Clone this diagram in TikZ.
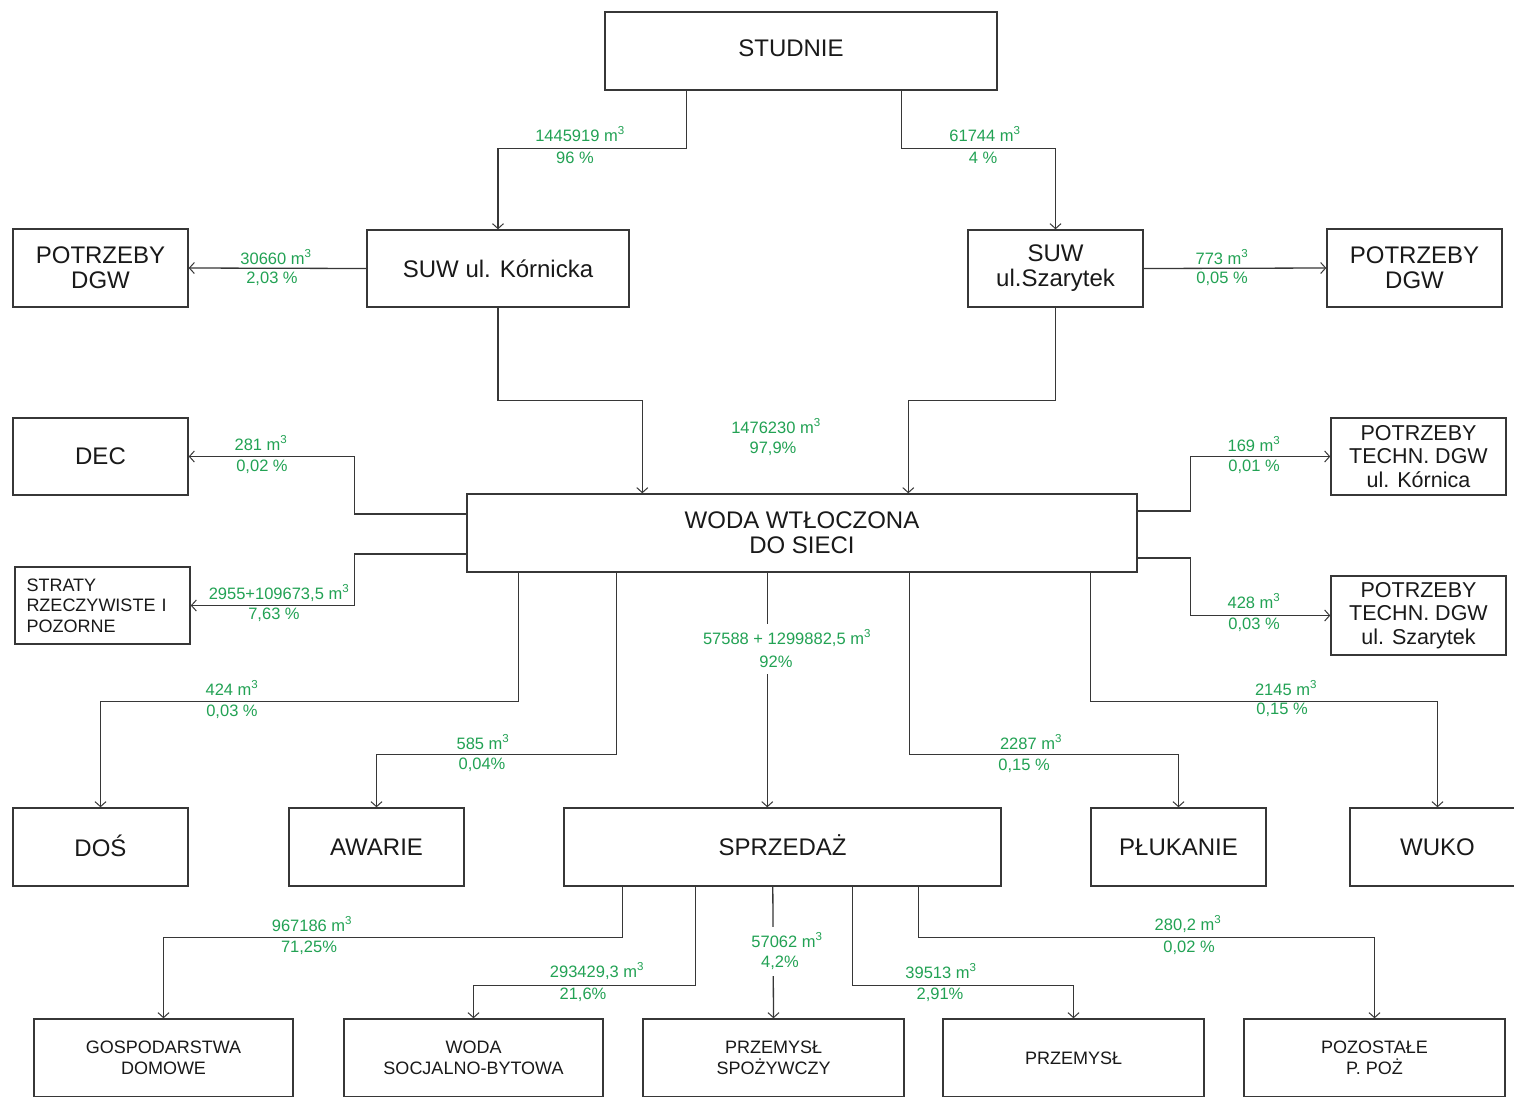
\documentclass[tikz,border=0pt]{standalone}
\usepackage{fontspec}
\setmainfont{Liberation Sans}
\usetikzlibrary{arrows.meta}
\definecolor{lbl}{RGB}{34,162,84}
\definecolor{ln}{RGB}{55,55,55}
\definecolor{tx}{RGB}{25,25,25}
\tikzset{
  box/.style={draw=ln, line width=1.4pt, inner sep=0pt, align=center, text=tx,
              font=\fontsize{24}{25}\selectfont},
  midbox/.style={box, font=\fontsize{21.5}{23.5}\selectfont},
  smallbox/.style={box, font=\fontsize{18}{20.5}\selectfont},
  conn/.style={draw=ln, line width=1.3pt},
  arr/.style={conn, -{Straight Barb[length=5pt,width=11pt,line width=1pt]}},
  lab/.style={text=lbl, font=\fontsize{16.5}{18}\selectfont, inner sep=1pt},
  labw/.style={lab, fill=white, inner ysep=6pt}
}
\begin{document}
\begin{tikzpicture}[x=1pt,y=-1pt]
\useasboundingbox[fill=white] (0,0) rectangle (1514,1096);

% boxes
\node[box, minimum width=392pt, minimum height=78pt] (studnie) at (801,51) {\hspace*{-20pt}\raisebox{5pt}{STUDNIE}};
\node[box, minimum width=175pt, minimum height=78pt] (potl) at (100.5,268) {POTRZEBY\\DGW};
\node[box, minimum width=262pt, minimum height=77pt] (suwk) at (498,268.5) {SUW ul. Kórnicka};
\node[box, minimum width=175pt, minimum height=77pt] (suws) at (1055.5,268.5) {SUW\\ul.Szarytek};
\node[box, minimum width=175pt, minimum height=78pt] (potr) at (1414.5,268) {POTRZEBY\\DGW};
\node[box, minimum width=175pt, minimum height=77pt] (dec) at (100.5,456.5) {DEC};
\node[box, minimum width=670pt, minimum height=78pt] (woda) at (802,533) {WODA WTŁOCZONA\\DO SIECI};
\node[smallbox, minimum width=175pt, minimum height=77pt, text width=152pt, align=left] (straty) at (102.5,605.5) {STRATY\\RZECZYWISTE I\\POZORNE};
\node[midbox, minimum width=175pt, minimum height=77pt] (ptk) at (1418.5,456.5) {POTRZEBY\\TECHN. DGW\\ul. Kórnica};
\node[midbox, minimum width=175pt, minimum height=79pt] (pts) at (1418.5,615.5) {POTRZEBY\\TECHN. DGW\\ul. Szarytek};

\node[box, minimum width=175pt, minimum height=78pt] (dos) at (100.5,847) {\raisebox{3pt}{DOŚ}};
\node[box, minimum width=175pt, minimum height=78pt] (awarie) at (376.5,847) {AWARIE};
\node[box, minimum width=437pt, minimum height=78pt] (sprz) at (782.5,847) {\raisebox{3pt}{SPRZEDAŻ}};
\node[box, minimum width=175pt, minimum height=78pt] (pluk) at (1178.5,847) {PŁUKANIE};
\node[box, minimum width=175pt, minimum height=78pt] (wuko) at (1437.5,847) {WUKO};

\node[smallbox, minimum width=259pt, minimum height=78pt] (gosp) at (163.5,1058) {GOSPODARSTWA\\DOMOWE};
\node[smallbox, minimum width=259pt, minimum height=78pt] (socj) at (473.5,1058) {WODA\\SOCJALNO-BYTOWA};
\node[smallbox, minimum width=261pt, minimum height=78pt] (przs) at (773.5,1058) {PRZEMYSŁ\\SPOŻYWCZY};
\node[smallbox, minimum width=261pt, minimum height=78pt] (przem) at (1073.5,1058) {PRZEMYSŁ};
\node[smallbox, minimum width=261pt, minimum height=78pt] (pozos) at (1374.5,1058) {POZOSTAŁE\\P. POŻ};

% connectors
\draw[arr] ([xshift=82pt]studnie.south west) -- ++(0,58) -| (suwk.north);
\draw[arr] ([xshift=297pt]studnie.south west) -- ++(0,58) -| (suws.north);
\draw[arr] (suwk.west) -- (potl.east);
\draw[arr] (suws.east) -- (potr.west);
\draw[arr] (suwk.south) -- ++(0,93) -| ([xshift=176pt]woda.north west);
\draw[arr] (suws.south) -- ++(0,93) -| ([xshift=442pt]woda.north west);

\draw[arr] ([yshift=19pt]woda.west) -- ++(-112,0) |- (dec.east);
\draw[arr] ([yshift=-21pt]woda.west) -- ++(-112,0) |- (straty.east);
\draw[arr] ([yshift=22pt]woda.east) -- ++(53,0) |- (ptk.west);
\draw[arr] ([yshift=-25pt]woda.east) -- ++(53,0) |- (pts.west);

\draw[arr] ([xshift=52pt]woda.south west) -- ++(0,129) -| (dos.north);
\draw[arr] ([xshift=150pt]woda.south west) -- ++(0,182) -| (awarie.north);
\draw[arr] ([xshift=301pt]woda.south west) -- ([xshift=204pt]sprz.north west);
\draw[arr] ([xshift=443pt]woda.south west) -- ++(0,182) -| (pluk.north);
\draw[arr] ([xshift=624pt]woda.south west) -- ++(0,129) -| (wuko.north);

\draw[arr] ([xshift=59pt]sprz.south west) -- ++(0,51) -| (gosp.north);
\draw[arr] ([xshift=132pt]sprz.south west) -- ++(0,99) -| (socj.north);
\draw[arr] ([xshift=209.5pt]sprz.south west) -- (przs.north);
\draw[arr] ([xshift=289pt]sprz.south west) -- ++(0,99) -| (przem.north);
\draw[arr] ([xshift=355pt]sprz.south west) -- ++(0,51) -| (pozos.north);

% labels
\node[lab] (l1a) at (580,134) {1445919 m\textsuperscript{3}};
\node[lab] (l1b) at (575,158) {96 \%};
\node[lab] (l2a) at (985,134) {61744 m\textsuperscript{3}};
\node[lab] (l2b) at (983,158) {4 \%};
\node[lab] (l3a) at (276,257) {30660 m\textsuperscript{3}};
\node[lab] (l3b) at (272,279) {2,03 \%};
\node[lab] (l4a) at (1222,257) {773 m\textsuperscript{3}};
\node[lab] (l4b) at (1222,279) {0,05 \%};
\node[lab] (l5a) at (776,426) {1476230 m\textsuperscript{3}};
\node[lab] (l5b) at (773,449) {97,9\%};
\node[lab] (l6a) at (261,443) {281 m\textsuperscript{3}};
\node[lab] (l6b) at (262,467) {0,02 \%};
\node[lab] (l7a) at (279,593) {2955+109673,5 m\textsuperscript{3}};
\node[lab] (l7b) at (274,615) {7,63 \%};
\node[lab] (l8a) at (1254,444) {169 m\textsuperscript{3}};
\node[lab] (l8b) at (1254,467) {0,01 \%};
\node[lab] (l9a) at (1254,601) {428 m\textsuperscript{3}};
\node[lab] (l9b) at (1254,625) {0,03 \%};
\node[lab] (l10a) at (232,688) {424 m\textsuperscript{3}};
\node[lab] (l10b) at (232,712) {0,03 \%};
\node[lab] (l11a) at (483,742) {585 m\textsuperscript{3}};
\node[lab] (l11b) at (482,765) {0,04\%};
\node[labw] (l12a) at (787,638) {57588 + 1299882,5 m\textsuperscript{3}};
\node[labw] (l12b) at (776,662) {92\%};
\node[lab] (l13a) at (1031,742) {2287 m\textsuperscript{3}};
\node[lab] (l13b) at (1024,766) {0,15 \%};
\node[lab] (l14a) at (1286,688) {2145 m\textsuperscript{3}};
\node[lab] (l14b) at (1282,710) {0,15 \%};
\node[lab] (l15a) at (312,924) {967186 m\textsuperscript{3}};
\node[lab] (l15b) at (309,948) {71,25\%};
\node[lab] (l16a) at (597,971) {293429,3 m\textsuperscript{3}};
\node[lab] (l16b) at (583,995) {21,6\%};
\node[labw] (l17a) at (787,940) {57062 m\textsuperscript{3}};
\node[labw] (l17b) at (780,963) {4,2\%};
\node[lab] (l18a) at (941,971) {39513 m\textsuperscript{3}};
\node[lab] (l18b) at (940,995) {2,91\%};
\node[lab] (l19a) at (1188,924) {280,2 m\textsuperscript{3}};
\node[lab] (l19b) at (1189,948) {0,02 \%};
\end{tikzpicture}
\end{document}
